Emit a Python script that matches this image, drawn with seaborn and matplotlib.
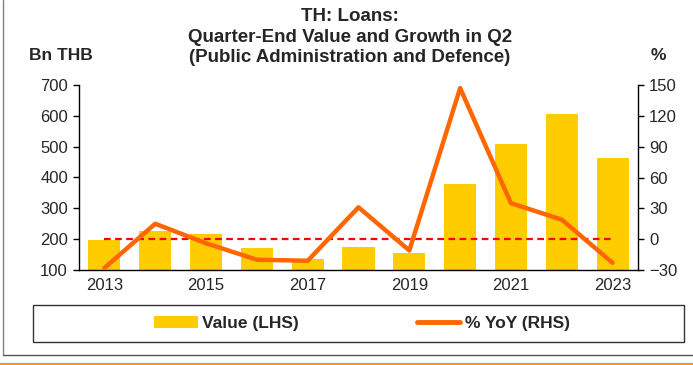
import numpy as np
import pandas as pd
import matplotlib
matplotlib.use("Agg")
import matplotlib.pyplot as plt
from matplotlib.lines import Line2D
from matplotlib.patches import Patch, Rectangle
from matplotlib.ticker import FixedLocator, NullFormatter
import seaborn as sns

# Quarter-end loans to public administration and defence, Q2 of each year
years = ["2013", "2014", "2015", "2016", "2017", "2018", "2019", "2020", "2021", "2022", "2023"]
value_bn_thb = [197, 226, 217, 171, 136, 175, 155, 378, 508, 605, 463]
yoy_pct = [-28, 15, -4, -20, -21, 31, -11, 147, 35, 19, -23]

left_ticks = [100, 200, 300, 400, 500, 600, 700]
right_ticks = [-30, 0, 30, 60, 90, 120, 150]

BAR = "#FFCC00"
LINE = "#FF6600"

sns.set_style("white")
plt.rcParams["font.family"] = ["Liberation Sans", "DejaVu Sans"]

df = pd.DataFrame({"year": years, "value": value_bn_thb, "yoy": yoy_pct})
df["pos"] = np.arange(len(df))

W, H = 693, 365
fig = plt.figure(figsize=(W / 100, H / 100), dpi=100)
ax = fig.add_axes([79 / W, 1 - 270 / H, 559 / W, 185 / H])

sns.barplot(data=df, x="year", y="value", order=years, color=BAR,
            saturation=1, width=0.63, edgecolor="none", ax=ax)
ax.set_ylim(left_ticks[0], left_ticks[-1])
ax.set_xlim(-0.5, len(years) - 0.5)
ax.set_yticks(left_ticks)
ax.set_xlabel("")
ax.set_ylabel("")

ax2 = ax.twinx()
ax2.axhline(0, xmin=0.5 / len(years), xmax=1 - 0.5 / len(years),
            color="#FF0000", lw=1.6, ls=(0, (3, 2)), zorder=2)
sns.lineplot(data=df, x="pos", y="yoy", color=LINE, lw=3.2, ax=ax2, zorder=3)
ax2.set_ylim(right_ticks[0], right_ticks[-1])
ax2.set_yticks(right_ticks)
ax2.set_xlim(-0.5, len(years) - 0.5)
ax2.set_xlabel("")
ax2.set_ylabel("")

# x labels on every other year, tick marks on category boundaries
ax.xaxis.set_major_locator(FixedLocator(np.arange(0, len(years), 2)))
ax.set_xticklabels(years[::2])
ax.xaxis.set_minor_locator(FixedLocator(np.arange(-0.5, len(years), 1.0)))
ax.xaxis.set_minor_formatter(NullFormatter())
ax.tick_params(axis="x", which="major", length=0, pad=6, labelsize=12)
ax.tick_params(axis="x", which="minor", length=4, width=1, color="black", direction="out")
ax.tick_params(axis="y", length=4, width=1, color="black", direction="out", labelsize=12, pad=4)
ax2.tick_params(axis="y", length=4, width=1, color="black", direction="out", labelsize=12, pad=4)

for a in (ax, ax2):
    a.spines["top"].set_visible(False)
    for s in ("left", "right", "bottom"):
        a.spines[s].set_color("black")
        a.spines[s].set_linewidth(1)
ax.spines["right"].set_visible(False)
ax2.spines["left"].set_visible(False)
ax2.spines["bottom"].set_visible(False)
ax.set_zorder(1)
ax2.set_zorder(2)
ax.patch.set_visible(False)
ax2.patch.set_visible(False)

# titles and axis units
fig.text(350 / W, 1 - 8 / H, "TH: Loans:\nQuarter-End Value and Growth in Q2\n(Public Administration and Defence)",
         ha="center", va="top", fontsize=13.5, fontweight="bold", linespacing=1.27)
fig.text(61 / W, 1 - 55 / H, "Bn THB", ha="center", va="center", fontsize=12.5, fontweight="bold")
fig.text(658 / W, 1 - 55 / H, "%", ha="center", va="center", fontsize=12.5, fontweight="bold")

# legend box
fig.patches.append(Rectangle((33 / W, 1 - 342 / H), (684 - 33) / W, (342 - 305) / H,
                             transform=fig.transFigure, facecolor="white",
                             edgecolor="#333333", lw=1))
handles = [Patch(facecolor=BAR, edgecolor="none"), Line2D([], [], color=LINE, lw=3.5)]
leg = fig.legend(handles, ["Value (LHS)", "% YoY (RHS)"], loc="center",
                 bbox_to_anchor=(362 / W, 1 - 323.5 / H), ncol=2, frameon=False,
                 handlelength=2.5, handletextpad=0.25, columnspacing=6.8,
                 prop={"size": 12.5, "weight": "bold"})

# outer frame and bottom rule
fig.add_artist(Line2D([3 / W, 3 / W], [1 - 355 / H, 1], transform=fig.transFigure, color="#808080", lw=1))
fig.add_artist(Line2D([3 / W, 1], [1 - 355 / H, 1 - 355 / H], transform=fig.transFigure, color="#555555", lw=1))
fig.add_artist(Line2D([0, 1], [1 - 363.5 / H, 1 - 363.5 / H], transform=fig.transFigure, color="#F7941D", lw=1.6))

fig.savefig("out.png", dpi=100)
